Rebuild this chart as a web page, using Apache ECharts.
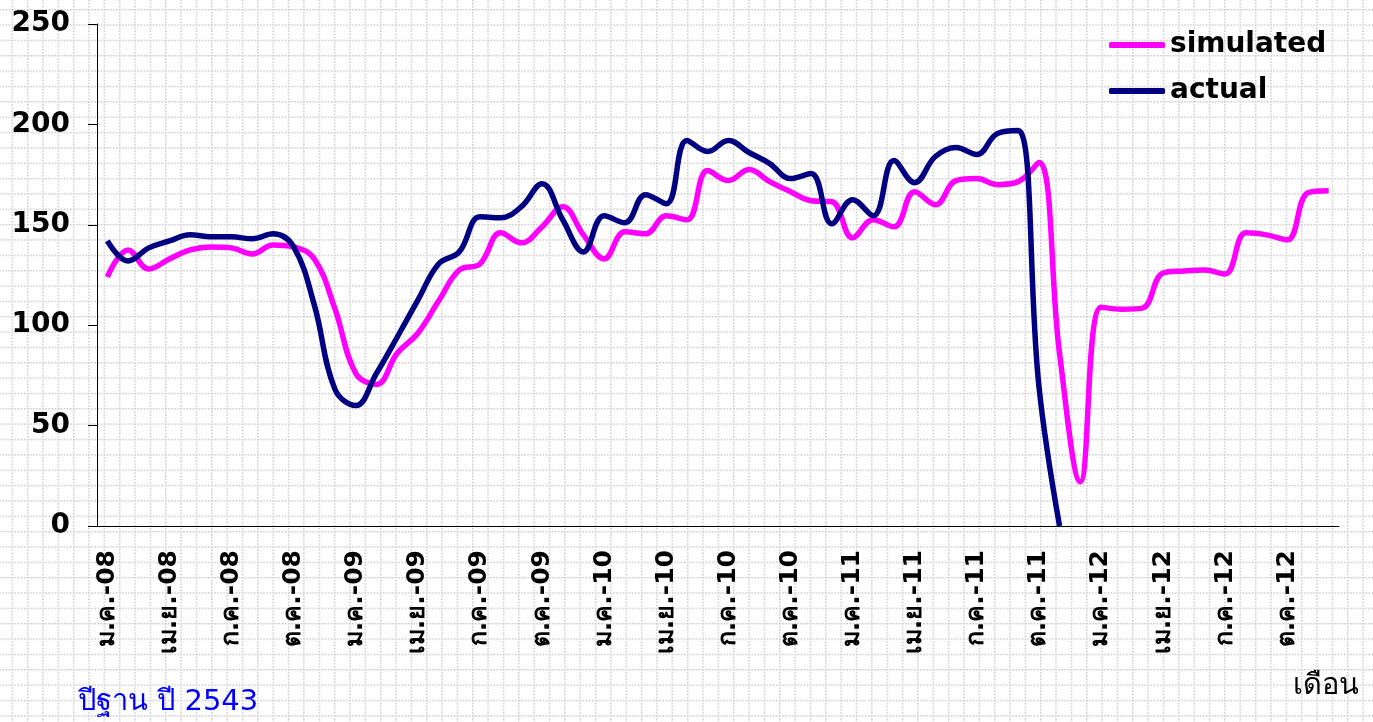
<!DOCTYPE html>
<html>
<head>
<meta charset="utf-8">
<script src="https://cdn.jsdelivr.net/npm/echarts@6/dist/echarts.min.js"></script>
<style>
  html, body { margin: 0; padding: 0; background: #fff; }
  #wrap { position: relative; width: 1373px; height: 722px; overflow: hidden; }
  #bg { position: absolute; left: 0; top: 0; }
  #chart { position: absolute; left: 0; top: 0; width: 1373px; height: 722px; }
</style>
</head>
<body>
<div id="wrap">
  <svg id="bg" width="1373" height="722" xmlns="http://www.w3.org/2000/svg">
    <defs>
      <pattern id="dots" x="11.5" y="9" width="15.35" height="15.35" patternUnits="userSpaceOnUse">
        <line x1="0" y1="0.75" x2="15.35" y2="0.75" stroke="#c4c4c4" stroke-width="1.5" stroke-dasharray="1.5 1.6"/>
        <line x1="0.75" y1="0" x2="0.75" y2="15.35" stroke="#c4c4c4" stroke-width="1.5" stroke-dasharray="1.5 1.6"/>
      </pattern>
    </defs>
    <rect x="0" y="0" width="1373" height="722" fill="url(#dots)"/>
  </svg>
  <div id="chart"></div>
</div>
<script>
const monthNames = ['ม.ค.', 'ก.พ.', 'มี.ค.', 'เม.ย.', 'พ.ค.', 'มิ.ย.', 'ก.ค.', 'ส.ค.', 'ก.ย.', 'ต.ค.', 'พ.ย.', 'ธ.ค.'];
const years = ['08', '09', '10', '11', '12'];
const categories = [];
years.forEach(y => monthNames.forEach(m => categories.push(m + '-' + y)));

const simulated = [
  124, 137.5, 128, 133, 137.5, 139, 138.5, 135.5, 140, 139, 133, 108,
  76, 70.5, 86, 96, 112, 127.5, 130.5, 146, 141, 149, 159, 145,
  133, 146.5, 145.5, 154.5, 152.5, 177, 172, 177.5, 171.5, 166.5, 162, 161.5,
  143.5, 152.5, 149, 166.5, 160, 172, 173, 170, 171.5, 181, 86, 22,
  109, 108, 108.5, 126, 127, 127.5, 125.5, 146, 145, 142.5, 166, 167
];
const actual = [
  142, 132, 138.5, 142, 145, 144, 144, 143, 145.5, 139, 110, 68,
  60, 76, 94, 112.5, 130.5, 136.5, 154, 153.5, 159, 170.5, 152.5, 136.5,
  154.5, 151, 165, 160.5, 192, 186.5, 192, 186, 180.5, 173, 175.5, 150.5,
  162.5, 154.5, 182, 171, 184, 188.5, 185, 195.5, 197, 70, 0, null,
  null, null, null, null, null, null, null, null, null, null, null, null
];
const yTicks = { min: 0, max: 250, interval: 50 };

const font = 'Tahoma, "DejaVu Sans", "Noto Sans", sans-serif';
const chart = echarts.init(document.getElementById('chart'), null, { renderer: 'canvas' });
chart.setOption({
  backgroundColor: 'transparent',
  animation: false,
  grid: { left: 97, right: 34, top: 24, bottom: 196, containLabel: false },
  legend: {
    orient: 'vertical',
    left: 1104,
    top: 26,
    itemWidth: 56,
    itemHeight: 6,
    itemGap: 18,
    icon: 'roundRect',
    textStyle: { fontFamily: font, fontSize: 28, fontWeight: 'bold', color: '#000' },
    data: ['simulated', 'actual']
  },
  xAxis: {
    type: 'category',
    data: categories,
    boundaryGap: true,
    axisLine: { lineStyle: { color: '#000', width: 1 } },
    axisTick: { interval: 2, length: 9, lineStyle: { color: '#000' } },
    axisLabel: {
      interval: 2, rotate: 90, margin: 24,
      fontFamily: font, fontSize: 25, fontWeight: 'bold', color: '#000'
    },
    splitLine: { show: false }
  },
  yAxis: {
    type: 'value',
    min: yTicks.min, max: yTicks.max, interval: yTicks.interval,
    axisLine: { show: true, lineStyle: { color: '#000', width: 1 } },
    axisTick: { show: true, length: 9, lineStyle: { color: '#000' } },
    axisLabel: { margin: 27, fontFamily: font, fontSize: 28, fontWeight: 'bold', color: '#000' },
    splitLine: { show: false }
  },
  series: [
    {
      name: 'simulated', type: 'line', data: simulated, smooth: 0.4,
      symbol: 'none', lineStyle: { color: '#ff00ff', width: 5.5 }, itemStyle: { color: '#ff00ff' }
    },
    {
      name: 'actual', type: 'line', data: actual, smooth: 0.4,
      symbol: 'none', lineStyle: { color: '#000080', width: 5.5 }, itemStyle: { color: '#000080' }
    }
  ],
  graphic: [
    {
      type: 'text', left: 78, top: 688,
      style: { text: 'ปีฐาน ปี 2543', fontFamily: font, fontSize: 29, fill: '#0000ff' }
    },
    {
      type: 'text', right: 14, top: 672,
      style: { text: 'เดือน', fontFamily: font, fontSize: 29, fill: '#000' }
    }
  ]
});
</script>
</body>
</html>
